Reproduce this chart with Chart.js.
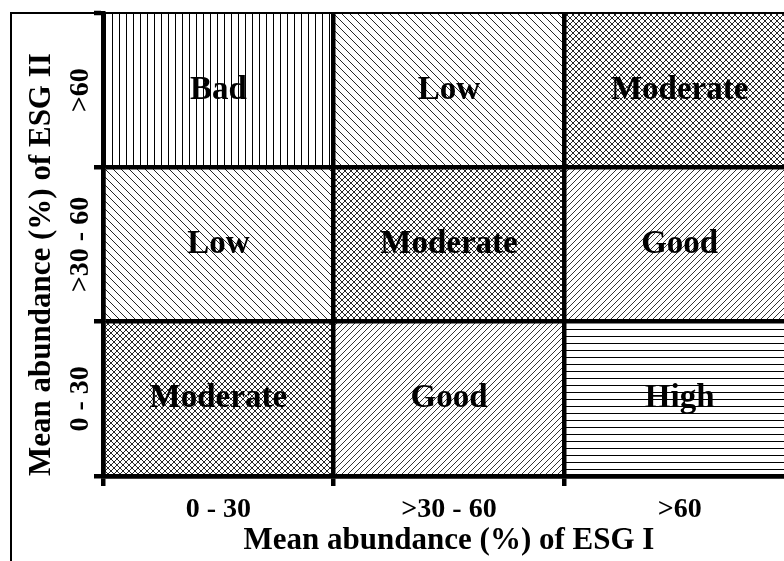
<!DOCTYPE html>
<html>
<head>
<meta charset="utf-8">
<script src="https://cdn.jsdelivr.net/npm/chart.js@4.4.1/dist/chart.umd.min.js"></script>
<style>
  html, body { margin: 0; padding: 0; background: #fff; overflow: hidden; width: 784px; height: 561px; }
  #chart { position: absolute; left: 0; top: 0; }
  /* thin figure frame, cropped on the right and bottom like the original */
  #frame { position: absolute; left: 10px; top: 12px; width: 900px; height: 700px; border: 2px solid #000; pointer-events: none; }
</style>
</head>
<body>
<canvas id="chart" width="800" height="575"></canvas>
<div id="frame"></div>
<script>
// categories (ESG I along x, ESG II along y, bottom to top)
const xLabels = ['0 - 30', '>30 - 60', '>60'];
const yLabels = ['0 - 30', '>30 - 60', '>60'];
const yTickValues = [0.5, 1.5, 2.5];

// each row is one stacked band, every cell has height 1
const rowBottom = [1, 1, 1];
const rowMiddle = [1, 1, 1];
const rowTop = [1, 1, 1];

// status of each cell, same row order
const classBottom = ['Moderate', 'Good', 'High'];
const classMiddle = ['Low', 'Moderate', 'Good'];
const classTop = ['Bad', 'Low', 'Moderate'];

const serif = '"Liberation Serif", "Times New Roman", serif';
const tickFont = { family: serif, size: 28, weight: 'bold' };
const titleFont = { family: serif, size: 31, weight: 'bold' };

// hatch fill for each status
function makePattern(kind, s, w) {
    const c = document.createElement('canvas');
    c.width = s;
    c.height = s;
    const g = c.getContext('2d');
    g.strokeStyle = '#000';
    g.lineWidth = w;
    g.beginPath();
    if (kind === 'vertical') {
        g.moveTo(0.5, 0); g.lineTo(0.5, s);
    } else if (kind === 'horizontal') {
        g.moveTo(0, 0.5); g.lineTo(s, 0.5);
    }
    if (kind === 'back' || kind === 'cross') {
        g.moveTo(-1, -1); g.lineTo(s + 1, s + 1);
        g.moveTo(s - 1, -1); g.lineTo(s + 1, 1);
        g.moveTo(-1, s - 1); g.lineTo(1, s + 1);
    }
    if (kind === 'forward' || kind === 'cross') {
        g.moveTo(-1, s + 1); g.lineTo(s + 1, -1);
        g.moveTo(-1, 1); g.lineTo(1, -1);
        g.moveTo(s - 1, s + 1); g.lineTo(s + 1, s - 1);
    }
    g.stroke();
    return g.createPattern(c, 'repeat');
}

const patterns = {
    'Bad': makePattern('vertical', 7, 1),
    'Low': makePattern('back', 8, 0.85),
    'Moderate': makePattern('cross', 6, 0.85),
    'Good': makePattern('forward', 6, 0.8),
    'High': makePattern('horizontal', 7, 1)
};

// rotated y tick labels are centred by Chart.js on the widest label, so pull them in
function widestLabel(labels, font) {
    const g = document.createElement('canvas').getContext('2d');
    g.font = font.weight + ' ' + font.size + 'px ' + font.family;
    return Math.max.apply(null, labels.map(l => g.measureText(l).width));
}
const yTickPadding = 13 - widestLabel(yLabels, tickFont) / 2;

const cellLabels = {
    id: 'cellLabels',
    afterDatasetsDraw(chart) {
        const ctx = chart.ctx;
        ctx.save();
        ctx.font = 'bold 33px ' + serif;
        ctx.fillStyle = '#000';
        ctx.textAlign = 'center';
        ctx.textBaseline = 'middle';
        chart.data.datasets.forEach((ds, di) => {
            chart.getDatasetMeta(di).data.forEach((bar, i) => {
                const p = bar.getProps(['x', 'y', 'base'], true);
                ctx.fillText(ds.classes[i], p.x, (p.y + p.base) / 2);
            });
        });
        ctx.restore();
    }
};

function rowDataset(label, values, classes) {
    return {
        label: label,
        data: values,
        classes: classes,
        backgroundColor: classes.map(c => patterns[c]),
        borderWidth: 0,
        barPercentage: 1,
        categoryPercentage: 1
    };
}

new Chart(document.getElementById('chart'), {
    type: 'bar',
    data: {
        labels: xLabels,
        datasets: [
            rowDataset(yLabels[0], rowBottom, classBottom),
            rowDataset(yLabels[1], rowMiddle, classMiddle),
            rowDataset(yLabels[2], rowTop, classTop)
        ]
    },
    options: {
        responsive: false,
        animation: false,
        layout: { padding: { left: 0, top: 13, right: 5, bottom: 0 } },
        plugins: {
            legend: { display: false },
            tooltip: { enabled: false }
        },
        scales: {
            x: {
                stacked: true,
                offset: true,
                grid: { offset: true, color: '#000', lineWidth: 4.5, tickLength: 10, tickWidth: 4.5 },
                border: { display: true, color: '#000', width: 4.5 },
                ticks: { color: '#000', font: tickFont, padding: 7, maxRotation: 0 },
                title: {
                    display: true,
                    text: 'Mean abundance (%) of ESG I',
                    color: '#000',
                    font: titleFont,
                    padding: { top: 0, bottom: 15 }
                },
                afterFit: s => { s.height = 99; s.paddingLeft = 0; s.paddingRight = 0; }
            },
            y: {
                stacked: true,
                min: 0,
                max: 3,
                afterBuildTicks: s => { s.ticks = yTickValues.map(v => ({ value: v })); },
                grid: {
                    offset: true,
                    color: '#000',
                    lineWidth: c => (c.index === undefined ? 2 : 4.5),
                    tickLength: 9,
                    tickWidth: 4.5
                },
                border: { display: true, color: '#000', width: 4.5 },
                ticks: {
                    color: '#000',
                    font: tickFont,
                    minRotation: 90,
                    maxRotation: 90,
                    crossAlign: 'center',
                    padding: yTickPadding,
                    callback: (v, i) => yLabels[i]
                },
                title: {
                    display: true,
                    text: 'Mean abundance (%) of ESG II',
                    color: '#000',
                    font: titleFont,
                    align: 'start',
                    padding: { top: 23, bottom: 0 }
                },
                afterFit: s => { s.width = 103; s.paddingTop = 0; s.paddingBottom = 0; }
            }
        }
    },
    plugins: [cellLabels]
});
</script>
</body>
</html>
